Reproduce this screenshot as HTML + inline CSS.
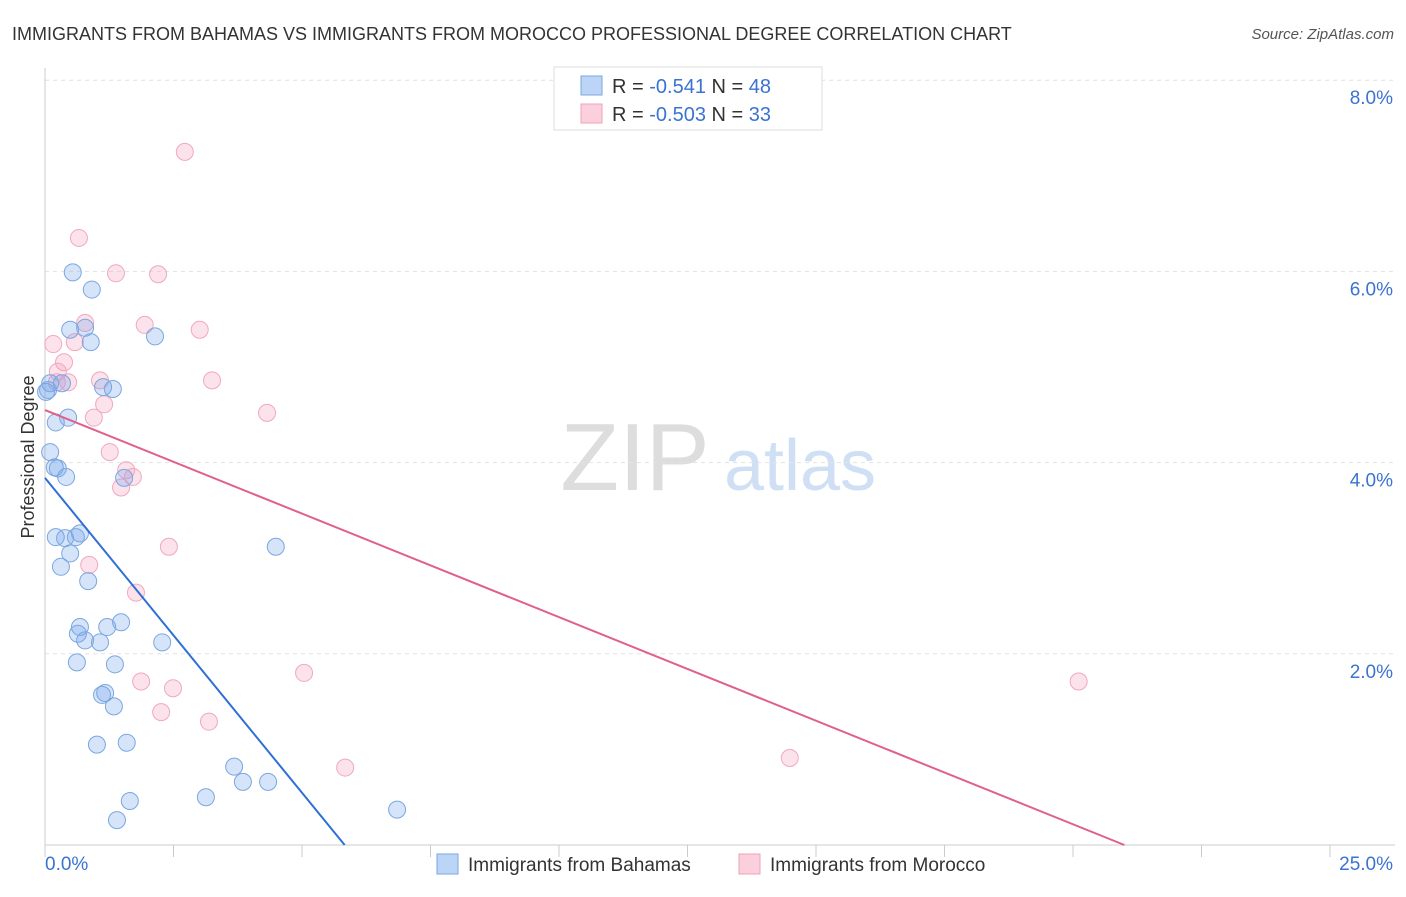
<!DOCTYPE html>
<html><head><meta charset="utf-8"><style>
body{margin:0;background:#fff;font-family:"Liberation Sans",sans-serif}
svg text{font-family:"Liberation Sans",sans-serif}
</style></head><body>
<svg width="1406" height="892" xmlns="http://www.w3.org/2000/svg">
<text x="12" y="40" font-size="18" fill="#333">IMMIGRANTS FROM BAHAMAS VS IMMIGRANTS FROM MOROCCO PROFESSIONAL DEGREE CORRELATION CHART</text>
<text x="1394" y="39" font-size="15" fill="#555" font-style="italic" text-anchor="end">Source: ZipAtlas.com</text>
<g>
<text x="635" y="490" font-size="96" fill="#ddd" font-family="Liberation Serif" text-anchor="middle">ZIP</text>
<text x="800" y="490" font-size="72" fill="#cfe0f5" text-anchor="middle">atlas</text>
</g>
<g id="grid"></g>
<g id="axes"></g>
<g id="marks"></g>
<text transform="translate(34,457) rotate(-90)" font-size="18" fill="#333" text-anchor="middle">Professional Degree</text>
<g>
<rect x="554" y="67" width="268" height="63" fill="#fff" stroke="#ddd"/>
<rect x="581" y="76" width="21" height="19" fill="#bcd4f5" stroke="#7aa7e0"/>
<text x="612" y="93" font-size="20" fill="#333">R = <tspan fill="#3b73d1">-0.541</tspan>   N = <tspan fill="#3b73d1">48</tspan></text>
<rect x="581" y="104" width="21" height="19" fill="#fbd0dc" stroke="#f0a0bb"/>
<text x="612" y="121" font-size="20" fill="#333">R = <tspan fill="#3b73d1">-0.503</tspan>   N = <tspan fill="#3b73d1">33</tspan></text>
</g>
<g>
<rect x="437" y="854" width="21" height="20" fill="#bcd4f5" stroke="#7aa7e0"/>
<text x="468" y="871" font-size="19" fill="#333">Immigrants from Bahamas</text>
<rect x="739" y="854" width="21" height="20" fill="#fbd0dc" stroke="#f0a0bb"/>
<text x="770" y="871" font-size="19" fill="#333">Immigrants from Morocco</text>
</g>
</svg>
<script>
const yTicks=[2,4,6,8];
const yTickLabels=["2.0%","4.0%","6.0%","8.0%"];
const xTickLabels=["0.0%","25.0%"];
const blueX=[0.54,0.91,0.49,0.78,0.89,2.14,0.10,0.33,0.02,1.13,1.32,0.21,0.45,0.10,0.19,0.25,0.41,0.21,0.39,0.60,0.68,0.49,0.31,0.84,0.68,0.64,0.78,1.07,1.21,1.48,2.28,0.62,1.36,1.11,1.17,1.34,1.01,1.59,1.54,4.49,3.68,3.85,4.34,3.13,1.65,1.40,6.85,0.06];
const blueY=[5.99,5.81,5.39,5.41,5.26,5.32,4.83,4.83,4.74,4.79,4.77,4.42,4.47,4.11,3.95,3.94,3.85,3.22,3.21,3.22,3.26,3.05,2.91,2.76,2.28,2.21,2.14,2.12,2.28,2.33,2.12,1.91,1.89,1.57,1.59,1.45,1.05,1.07,3.84,3.12,0.82,0.66,0.66,0.50,0.46,0.26,0.37,4.76];
const pinkX=[2.72,0.66,1.38,2.20,0.78,1.94,3.01,0.16,0.58,0.37,0.25,0.23,0.45,1.07,3.25,1.15,0.95,4.32,1.26,1.58,1.71,1.48,2.41,0.86,1.77,1.87,2.49,2.26,3.19,5.04,5.84,14.49,20.11];
const pinkY=[7.25,6.35,5.98,5.97,5.46,5.44,5.39,5.24,5.26,5.05,4.95,4.84,4.84,4.86,4.86,4.61,4.47,4.52,4.11,3.92,3.85,3.74,3.12,2.93,2.64,1.71,1.64,1.39,1.29,1.80,0.81,0.91,1.71];
const blueTrend=[3.84,5.83];
const pinkTrend=[4.55,21.0];
const NS="http://www.w3.org/2000/svg";
const X0=45,X1=1330,Y0=845,PX=(X1-X0)/25,PY=95.6;
const sx=v=>X0+v*PX, sy=v=>Y0-v*PY;
function mk(tag,attrs,parent){const e=document.createElementNS(NS,tag);for(const k in attrs)e.setAttribute(k,attrs[k]);document.getElementById(parent).appendChild(e);return e;}
yTicks.forEach((t,i)=>{
 const g=mk('line',{x1:X0,x2:X1+65,y1:sy(t),y2:sy(t),stroke:'#e2e2e2','stroke-dasharray':'4,4'},'grid');
 
 
 const l=mk('text',{x:1393,y:sy(t)+24,'font-size':19,fill:'#3b73d1','text-anchor':'end'},'grid');
 l.textContent=yTickLabels[i];
 
 
});
const ax=mk('line',{x1:X0,x2:X0,y1:68,y2:Y0,stroke:'#ccc'},'axes');


const bx=mk('line',{x1:X0,x2:X1+65,y1:Y0,y2:Y0,stroke:'#ccc'},'axes');


for(let i=0;i<=10;i++){
 const t=mk('line',{x1:sx(i*2.5),x2:sx(i*2.5),y1:Y0,y2:Y0+12,stroke:'#ccc'},'axes');
 
 
}
[[0,'start',45],[25,'end',1393]].forEach((d,i)=>{
 const l=mk('text',{x:d[2],y:870,'font-size':19,fill:'#3b73d1','text-anchor':d[1]},'axes');
 l.textContent=xTickLabels[i];
 
 
});
function pts(xs,ys,fill,stroke,name){
 xs.forEach((x,i)=>{
  const c=mk('circle',{cx:sx(x),cy:sy(ys[i]),r:8.5,fill:fill,stroke:stroke,'stroke-width':1},'marks');
  
  
 });
}
pts(pinkX,pinkY,'rgba(245,160,190,0.3)','#f0a8c0','morocco-point');
pts(blueX,blueY,'rgba(120,165,235,0.3)','#7aa7e0','bahamas-point');
const bl=mk('line',{x1:sx(0),y1:sy(blueTrend[0]),x2:sx(blueTrend[1]),y2:sy(0),stroke:'#2f6fd6','stroke-width':2},'marks');


const pl=mk('line',{x1:sx(0),y1:sy(pinkTrend[0]),x2:sx(pinkTrend[1]),y2:sy(0),stroke:'#e0608c','stroke-width':2},'marks');


</script>
</body></html>
